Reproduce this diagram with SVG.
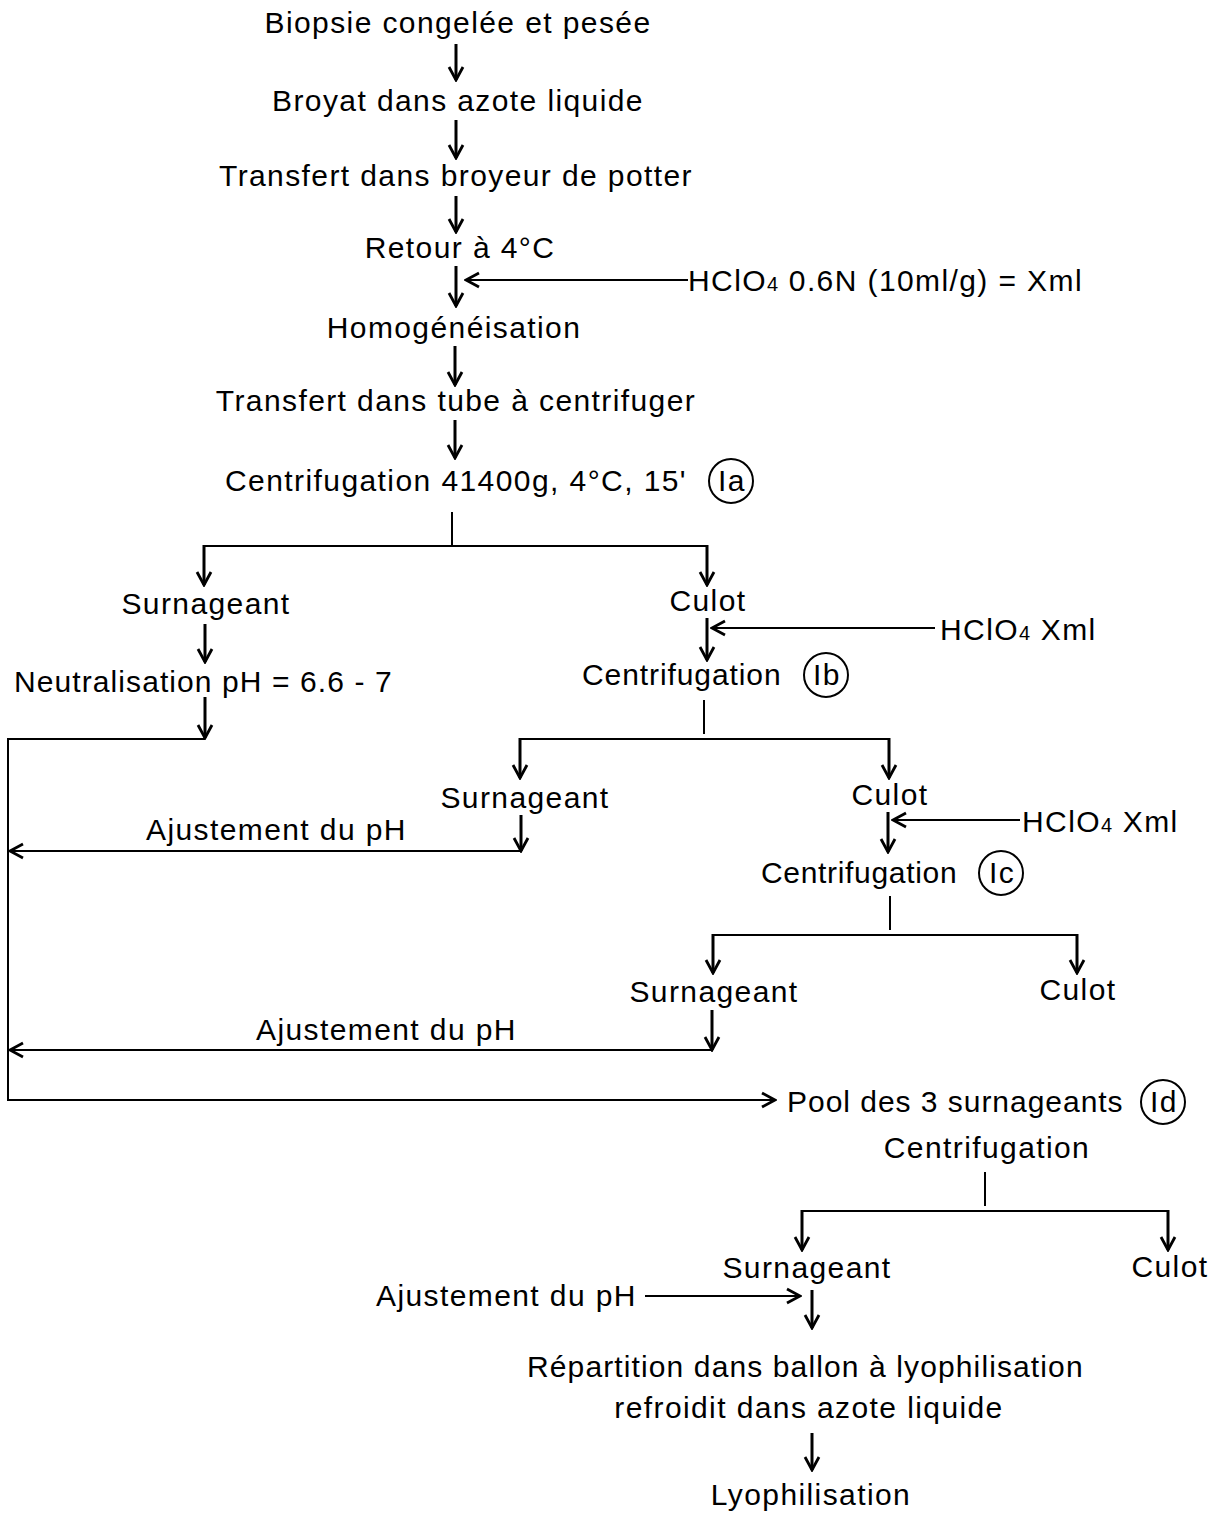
<svg xmlns="http://www.w3.org/2000/svg" width="1219" height="1513" viewBox="0 0 1219 1513">
<defs>
<style>
text{font-family:"Liberation Sans",Arial,sans-serif;font-size:30px;letter-spacing:1.4px;fill:#000}
.c{text-anchor:middle}
.s{font-size:20px;letter-spacing:1px}
.ln{fill:none;stroke:#000;stroke-width:2}
.ar{fill:none;stroke:#000;stroke-width:3}
.ci{fill:none;stroke:#000;stroke-width:2}
</style>
<marker id="h" viewBox="-16 -9 18 18" markerWidth="18" markerHeight="18" refX="0" refY="0" orient="auto" markerUnits="userSpaceOnUse">
<path d="M-13,-7 L0,0 L-13,7" fill="none" stroke="#000" stroke-width="2.8"/>
</marker>
</defs>
<rect width="1219" height="1513" fill="#fff"/>

<g id="n1"><text class="c" x="458" y="33">Biopsie congelée et pesée</text></g>
<g id="n2"><text class="c" x="458" y="111">Broyat dans azote liquide</text></g>
<g id="n3"><text class="c" x="456" y="186">Transfert dans broyeur de potter</text></g>
<g id="n4"><text class="c" x="460" y="258">Retour à 4°C</text></g>
<g id="r1"><text x="688" y="291">HClO<tspan class="s">4</tspan> 0.6N (10ml/g) = Xml</text></g>
<g id="n5"><text class="c" x="454" y="338">Homogénéisation</text></g>
<g id="n6"><text class="c" x="456" y="411">Transfert dans tube à centrifuger</text></g>
<g id="n7"><text x="225" y="491" textLength="462" lengthAdjust="spacing">Centrifugation 41400g, 4°C, 15'</text>
<circle class="ci" cx="731" cy="481" r="22"/><text class="c" x="732" y="491">Ia</text></g>
<g id="n8"><text class="c" x="206" y="614">Surnageant</text></g>
<g id="n9"><text class="c" x="708" y="611">Culot</text></g>
<g id="r2"><text x="940" y="640">HClO<tspan class="s">4</tspan> Xml</text></g>
<g id="n10"><text x="14" y="692" textLength="379" lengthAdjust="spacing">Neutralisation pH = 6.6 - 7</text></g>
<g id="n11"><text x="582" y="685" textLength="200" lengthAdjust="spacing">Centrifugation</text>
<circle class="ci" cx="826" cy="675" r="22"/><text class="c" x="827" y="685">Ib</text></g>
<g id="n12"><text class="c" x="525" y="808">Surnageant</text></g>
<g id="n13"><text class="c" x="890" y="805">Culot</text></g>
<g id="r3"><text x="1022" y="832">HClO<tspan class="s">4</tspan> Xml</text></g>
<g id="l1"><text x="146" y="840">Ajustement du pH</text></g>
<g id="n14"><text x="761" y="883" textLength="197" lengthAdjust="spacing">Centrifugation</text>
<circle class="ci" cx="1001" cy="873" r="22"/><text class="c" x="1002" y="883">Ic</text></g>
<g id="n15"><text class="c" x="714" y="1002">Surnageant</text></g>
<g id="n16"><text class="c" x="1078" y="1000">Culot</text></g>
<g id="l2"><text x="256" y="1040">Ajustement du pH</text></g>
<g id="n17"><text x="787" y="1112" textLength="337" lengthAdjust="spacing">Pool des 3 surnageants</text>
<circle class="ci" cx="1163" cy="1102" r="22"/><text class="c" x="1164" y="1112">Id</text></g>
<g id="n18"><text class="c" x="987" y="1158">Centrifugation</text></g>
<g id="n19"><text class="c" x="807" y="1278">Surnageant</text></g>
<g id="n20"><text class="c" x="1170" y="1277">Culot</text></g>
<g id="l3"><text x="376" y="1306">Ajustement du pH</text></g>
<g id="n21"><text x="527" y="1377" textLength="557" lengthAdjust="spacing">Répartition dans ballon à lyophilisation</text>
<text class="c" x="809" y="1418">refroidit dans azote liquide</text></g>
<g id="n22"><text class="c" x="811" y="1505">Lyophilisation</text></g>

<g id="connectors">
<path class="ar" d="M456,44 V80" marker-end="url(#h)"/>
<path class="ar" d="M456,120 V158" marker-end="url(#h)"/>
<path class="ar" d="M456,196 V232" marker-end="url(#h)"/>
<path class="ar" d="M456,266 V306" marker-end="url(#h)"/>
<path class="ln" d="M688,280 H466" marker-end="url(#h)"/>
<path class="ar" d="M455,346 V385" marker-end="url(#h)"/>
<path class="ar" d="M455,420 V458" marker-end="url(#h)"/>
<path class="ln" d="M452,512 V546 M203,546 H707"/>
<path class="ar" d="M204,545 V585" marker-end="url(#h)"/>
<path class="ar" d="M707,545 V585" marker-end="url(#h)"/>
<path class="ar" d="M205,624 V662" marker-end="url(#h)"/>
<path class="ar" d="M707,618 V660" marker-end="url(#h)"/>
<path class="ln" d="M935,628 H712" marker-end="url(#h)"/>
<path class="ar" d="M205,697 V738" marker-end="url(#h)"/>
<path class="ln" d="M205,739 H8 V1100 H775" marker-end="url(#h)"/>
<path class="ln" d="M704,700 V734 M519,739 H889"/>
<path class="ar" d="M520,738 V778" marker-end="url(#h)"/>
<path class="ar" d="M889,738 V778" marker-end="url(#h)"/>
<path class="ar" d="M521,815 V851" marker-end="url(#h)"/>
<path class="ln" d="M521,851 H10" marker-end="url(#h)"/>
<path class="ar" d="M888,812 V852" marker-end="url(#h)"/>
<path class="ln" d="M1020,820 H893" marker-end="url(#h)"/>
<path class="ln" d="M890,896 V930 M712,935 H1077"/>
<path class="ar" d="M713,934 V973" marker-end="url(#h)"/>
<path class="ar" d="M1077,934 V973" marker-end="url(#h)"/>
<path class="ar" d="M712,1010 V1050" marker-end="url(#h)"/>
<path class="ln" d="M712,1050 H10" marker-end="url(#h)"/>
<path class="ln" d="M985,1172 V1206 M801,1211 H1168"/>
<path class="ar" d="M802,1210 V1250" marker-end="url(#h)"/>
<path class="ar" d="M1168,1210 V1250" marker-end="url(#h)"/>
<path class="ln" d="M645,1296 H800" marker-end="url(#h)"/>
<path class="ar" d="M812,1290 V1328" marker-end="url(#h)"/>
<path class="ar" d="M812,1433 V1470" marker-end="url(#h)"/>
</g>
</svg>
